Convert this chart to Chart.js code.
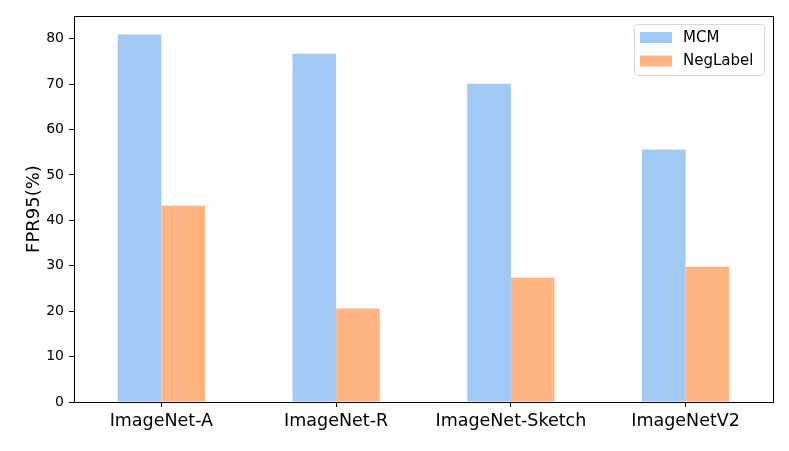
<!DOCTYPE html>
<html>
<head>
<meta charset="utf-8">
<script src="https://cdn.jsdelivr.net/npm/chart.js@4.4.1/dist/chart.umd.min.js"></script>
<style>
  html, body { margin: 0; padding: 0; background: #fff; }
  #wrap { width: 789px; height: 451px; }
</style>
</head>
<body>
<div id="wrap"><canvas id="chart"></canvas></div>
<script>
const categories = ['ImageNet-A', 'ImageNet-R', 'ImageNet-Sketch', 'ImageNetV2'];
const mcmValues = [80.9, 76.7, 70.1, 55.6];
const negLabelValues = [43.2, 20.6, 27.4, 29.8];
const yTicks = [0, 10, 20, 30, 40, 50, 60, 70, 80];

const FONT = "'DejaVu Sans', sans-serif";

// box around plot area (matplotlib spines)
const frame = {
  id: 'frame',
  afterDatasetsDraw(chart) {
    const { ctx, chartArea: a } = chart;
    ctx.save();
    ctx.strokeStyle = '#000';
    ctx.lineWidth = 1;
    ctx.strokeRect(Math.round(a.left) + 0.5, Math.round(a.top) + 0.5,
      Math.round(a.right - a.left), Math.round(a.bottom - a.top));
    ctx.restore();
  },
};

// legend inside the upper right corner
const innerLegend = {
  id: 'innerLegend',
  afterDraw(chart) {
    const { ctx, chartArea: a } = chart;
    const x = a.right - 139, y = a.top + 8, w = 130, h = 51;
    ctx.save();
    ctx.fillStyle = 'rgba(255,255,255,0.8)';
    ctx.strokeStyle = '#d9d9d9';
    ctx.lineWidth = 1;
    ctx.beginPath();
    ctx.roundRect(x + 0.5, y + 0.5, w, h, 3);
    ctx.fill();
    ctx.stroke();
    ctx.font = '15px ' + FONT;
    ctx.textBaseline = 'middle';
    chart.data.datasets.forEach((ds, i) => {
      const cy = y + 13 + i * 23.5;
      ctx.fillStyle = ds.backgroundColor;
      ctx.fillRect(x + 6, cy - 5, 32, 11);
      ctx.fillStyle = '#000';
      ctx.fillText(ds.label, x + 49, cy + 1);
    });
    ctx.restore();
  },
};

new Chart(document.getElementById('chart'), {
  type: 'bar',
  data: {
    labels: categories,
    datasets: [
      {
        label: 'MCM',
        data: mcmValues,
        backgroundColor: '#a1c9f4',
        borderWidth: 0,
      },
      {
        label: 'NegLabel',
        data: negLabelValues,
        backgroundColor: '#ffb482',
        borderWidth: 0,
      },
    ],
  },
  options: {
    responsive: true,
    maintainAspectRatio: false,
    animation: false,
    categoryPercentage: 0.5,
    barPercentage: 1.0,
    layout: { padding: { top: 16, right: 16, bottom: 0, left: 0 } },
    plugins: {
      legend: { display: false },
      tooltip: { enabled: false },
    },
    scales: {
      x: {
        grid: { offset: false, drawOnChartArea: false, drawTicks: true, tickLength: 5, color: '#000' },
        border: { display: false },
        ticks: { color: '#000', font: { family: FONT, size: 17.5 }, padding: 4, maxRotation: 0 },
        afterFit(scale) { scale.height = 49; },
      },
      y: {
        min: 0,
        max: 85,
        grid: { drawOnChartArea: false, drawTicks: true, tickLength: 5, color: '#000' },
        border: { display: false },
        ticks: { color: '#000', font: { family: FONT, size: 14 }, padding: 5, stepSize: 10 },
        afterBuildTicks(scale) {
          scale.ticks = yTicks.map((v) => ({ value: v }));
        },
        title: {
          display: true,
          text: 'FPR95(%)',
          color: '#000',
          font: { family: FONT, size: 18 },
          padding: { top: 24, bottom: 0 },
        },
        afterFit(scale) { scale.width = 74; },
      },
    },
  },
  plugins: [frame, innerLegend],
});
</script>
</body>
</html>
